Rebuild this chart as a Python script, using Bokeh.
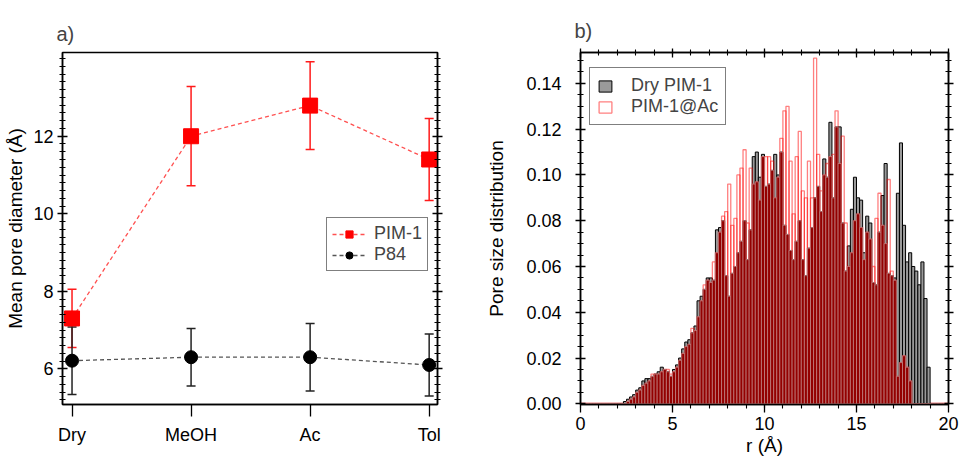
import numpy as np
from bokeh.plotting import figure
from bokeh.models import (Range1d, LinearAxis, FixedTicker, Whisker, TeeHead,
                          ColumnDataSource, PrintfTickFormatter, Span)
from bokeh.layouts import row
from bokeh.embed import file_html
from bokeh.resources import INLINE

# ---------------- data: panel a) ----------------
categories = ["Dry", "MeOH", "Ac", "Tol"]
pim1_mean = [7.30, 12.00, 12.79, 11.40]
pim1_err = [0.75, 1.28, 1.13, 1.06]
p84_mean = [6.21, 6.30, 6.30, 6.10]
p84_err = [0.87, 0.74, 0.87, 0.80]

# ---------------- data: panel b) ----------------
bin_width = 1.0 / 6.0   # Angstrom, bins from r = 0 to 20
dry_pim1 = [
    0.0, 0.0, 0.0, 0.0, 0.0, 0.0, 0.0, 0.0, 0.0, 0.0, 0.0, 0.0, 0.0, 0.0,
    0.001, 0.002, 0.003, 0.004, 0.006, 0.007, 0.010, 0.011, 0.011, 0.012,
    0.013, 0.014, 0.016, 0.015, 0.014, 0.012, 0.015, 0.017, 0.020, 0.024,
    0.027, 0.028, 0.031, 0.034, 0.045, 0.047, 0.050, 0.055, 0.055, 0.054,
    0.076, 0.077, 0.080, 0.056, 0.047, 0.057, 0.060, 0.066, 0.071, 0.080,
    0.063, 0.076, 0.108, 0.110, 0.099, 0.109, 0.095, 0.096, 0.102, 0.109,
    0.100, 0.110, 0.078, 0.074, 0.067, 0.063, 0.071, 0.080, 0.063, 0.056,
    0.068, 0.077, 0.090, 0.095, 0.084, 0.107, 0.099, 0.123, 0.090, 0.121,
    0.121, 0.079, 0.058, 0.069, 0.085, 0.099, 0.090, 0.089, 0.066, 0.082,
    0.079, 0.053, 0.052, 0.075, 0.091, 0.105, 0.057, 0.056, 0.055, 0.092,
    0.114, 0.078, 0.062, 0.066, 0.060, 0.058, 0.052, 0.062, 0.046, 0.016,
    0.0, 0.0, 0.0, 0.0, 0.0, 0.0,
]
pim1_ac = [
    0.0, 0.0, 0.0, 0.0, 0.0, 0.0, 0.0, 0.0, 0.0, 0.0, 0.0, 0.0, 0.0, 0.0, 0.0,
    0.001, 0.002, 0.003, 0.005, 0.006, 0.008, 0.009, 0.010, 0.013, 0.013,
    0.013, 0.014, 0.015, 0.015, 0.013, 0.014, 0.016, 0.019, 0.022, 0.025,
    0.026, 0.033, 0.032, 0.038, 0.045, 0.052, 0.054, 0.053, 0.062, 0.066,
    0.075, 0.082, 0.084, 0.096, 0.078, 0.081, 0.100, 0.103, 0.111, 0.079,
    0.103, 0.096, 0.097, 0.089, 0.108, 0.108, 0.108, 0.106, 0.090, 0.099,
    0.116, 0.128, 0.130, 0.106, 0.083, 0.108, 0.119, 0.093, 0.090, 0.106,
    0.090, 0.151, 0.109, 0.093, 0.100, 0.105, 0.108, 0.109, 0.128, 0.105,
    0.117, 0.079, 0.060, 0.066, 0.080, 0.083, 0.077, 0.063, 0.075, 0.072,
    0.060, 0.081, 0.092, 0.078, 0.070, 0.098, 0.058, 0.054, 0.012, 0.018,
    0.021, 0.016, 0.010,
    0.0, 0.0, 0.0, 0.0, 0.0, 0.0, 0.0, 0.0, 0.0, 0.0, 0.0, 0.0,
]

FONT = "Liberation Sans"
TICK_FS = "18px"
LABEL_FS = "19px"


def style_axis(ax, label_fs=TICK_FS):
    ax.axis_line_width = 1.5
    ax.major_tick_line_width = 1.3
    ax.minor_tick_line_width = 1.1
    ax.major_label_text_font = FONT
    ax.major_label_text_font_size = label_fs
    ax.major_label_text_color = "black"
    ax.axis_label_text_font = FONT
    ax.axis_label_text_font_size = LABEL_FS
    ax.axis_label_text_font_style = "normal"
    ax.axis_label_text_color = "black"


def mirror_axis(ticker, tick_in, tick_out, minor_in, minor_out):
    ax = LinearAxis(ticker=ticker)
    style_axis(ax, label_fs="1px")
    ax.major_label_text_color = None
    ax.major_label_standoff = 0
    ax.major_tick_in = tick_in
    ax.major_tick_out = tick_out
    ax.minor_tick_in = minor_in
    ax.minor_tick_out = minor_out
    return ax


# ================= panel a) =================
xpos = list(range(len(categories)))
p1 = figure(width=478, height=463, output_backend="svg", toolbar_location=None,
            x_range=Range1d(-0.08, 3.07), y_range=Range1d(5.08, 14.16),
            min_border_left=62, min_border_right=41, min_border_top=50,
            min_border_bottom=55, title="a)")
p1.title.text_font = FONT
p1.title.text_font_size = "20px"
p1.title.text_font_style = "normal"
p1.title.offset = -6
p1.title.standoff = 16
p1.grid.visible = False
p1.outline_line_color = "black"
p1.outline_line_width = 1.5

src_pim = ColumnDataSource(dict(
    x=xpos, y=pim1_mean,
    upper=[m + e for m, e in zip(pim1_mean, pim1_err)],
    lower=[m - e for m, e in zip(pim1_mean, pim1_err)]))
src_p84 = ColumnDataSource(dict(
    x=xpos, y=p84_mean,
    upper=[m + e for m, e in zip(p84_mean, p84_err)],
    lower=[m - e for m, e in zip(p84_mean, p84_err)]))

for src, col in ((src_pim, "#ff1a1a"), (src_p84, "#222222")):
    w = Whisker(base="x", upper="upper", lower="lower", source=src,
                line_color=col, line_width=1.5,
                upper_head=TeeHead(size=9, line_color=col, line_width=1.5),
                lower_head=TeeHead(size=9, line_color=col, line_width=1.5))
    p1.add_layout(w)

p1.line("x", "y", source=src_pim, line_color="#ff5050", line_dash="4 3",
        line_width=1.3, legend_label="PIM-1")
p1.scatter("x", "y", source=src_pim, marker="square", size=15,
           fill_color="#ff0000", line_color="#ff0000", legend_label="PIM-1")
p1.line("x", "y", source=src_p84, line_color="#555555", line_dash="4 3",
        line_width=1.3, legend_label="P84")
p1.scatter("x", "y", source=src_p84, marker="circle", size=13,
           fill_color="black", line_color="black", legend_label="P84")

xa = p1.xaxis[0]
style_axis(xa)
xa.ticker = FixedTicker(ticks=xpos)
xa.major_label_overrides = {i: c for i, c in enumerate(categories)}
xa.major_tick_in = 0
xa.major_tick_out = 12
xa.minor_tick_in = 0
xa.minor_tick_out = 0
xa.major_label_standoff = 8

ya_ticker = FixedTicker(ticks=[6, 8, 10, 12],
                        minor_ticks=[round(v, 1) for v in np.arange(5.2, 14.05, 0.2)])
ya = p1.yaxis[0]
style_axis(ya)
ya.ticker = ya_ticker
ya.axis_label = "Mean pore diameter (Å)"
ya.major_tick_in = 5
ya.major_tick_out = 5
ya.minor_tick_in = 3
ya.minor_tick_out = 3
ya.major_label_standoff = 4
ya.axis_label_standoff = 4
p1.add_layout(mirror_axis(ya_ticker, 5, 5, 3, 3), "right")

lg1 = p1.legend[0]
lg1.location = (264, 133)
lg1.label_text_font = FONT
lg1.label_text_font_size = "18px"
lg1.border_line_color = "black"
lg1.border_line_width = 1.5
lg1.padding = 5
lg1.spacing = 0
lg1.glyph_width = 34
lg1.glyph_height = 18
lg1.label_height = 18
lg1.label_standoff = 8
lg1.margin = 0

# ================= panel b) =================
centers = [(k + 0.5) * bin_width for k in range(len(dry_pim1))]
both = np.minimum(np.array(dry_pim1), np.array(pim1_ac)).tolist()
src_h = ColumnDataSource(dict(r=centers, dry=dry_pim1, ac=pim1_ac, both=both))

p2 = figure(width=482, height=463, output_backend="svg", toolbar_location=None,
            x_range=Range1d(0, 20), y_range=Range1d(-0.0003, 0.1535),
            min_border_left=102, min_border_right=12, min_border_top=52,
            min_border_bottom=59, title="b)")
p2.title.text_font = FONT
p2.title.text_font_size = "20px"
p2.title.text_font_style = "normal"
p2.title.offset = -6
p2.title.standoff = 14
p2.grid.visible = False
p2.outline_line_color = "black"
p2.outline_line_width = 1.5

p2.add_layout(Span(location=0, dimension="width", line_color="#d40000",
                   line_width=2, level="underlay"))
p2.vbar(x="r", top="dry", bottom=0, width=bin_width, source=src_h,
        fill_color="#9a9a9a", line_color="black", line_width=1.0,
        legend_label="Dry PIM-1")
p2.vbar(x="r", top="ac", bottom=0, width=bin_width, source=src_h,
        fill_color=None, line_color="#ff0000", line_alpha=0.5, line_width=1.3,
        legend_label="PIM-1@Ac")
p2.vbar(x="r", top="both", bottom=0, width=bin_width, source=src_h,
        fill_color="#930000", line_color="#c49090", line_width=0.7)

xt2 = FixedTicker(ticks=[0, 5, 10, 15, 20], minor_ticks=list(range(0, 21)))
xb = p2.xaxis[0]
style_axis(xb)
xb.ticker = xt2
xb.axis_label = "r (Å)"
xb.major_tick_in = 0
xb.major_tick_out = 8
xb.minor_tick_in = 0
xb.minor_tick_out = 4
xb.major_label_standoff = 4
xb.axis_label_standoff = 2
p2.add_layout(mirror_axis(xt2, 5, 4, 3, 3), "above")

yt2 = FixedTicker(ticks=[round(v, 2) for v in np.arange(0, 0.141, 0.02)],
                  minor_ticks=[round(v, 3) for v in np.arange(0, 0.1501, 0.005)])
yb = p2.yaxis[0]
style_axis(yb)
yb.ticker = yt2
yb.formatter = PrintfTickFormatter(format="%.2f")
yb.axis_label = "Pore size distribution"
yb.major_tick_in = 5
yb.major_tick_out = 5
yb.minor_tick_in = 3
yb.minor_tick_out = 3
yb.major_label_standoff = 14
yb.axis_label_standoff = 16
p2.add_layout(mirror_axis(yt2, 4, 5, 3, 3), "right")

lg2 = p2.legend[0]
lg2.location = (9, 279)
lg2.label_text_font = FONT
lg2.label_text_font_size = "18px"
lg2.border_line_color = "black"
lg2.border_line_width = 1.5
lg2.padding = 7
lg2.spacing = 0
lg2.glyph_width = 16
lg2.glyph_height = 14
lg2.label_height = 18
lg2.label_standoff = 18
lg2.margin = 0

layout = row(p1, p2)
open("out.html", "w").write(file_html(layout, INLINE))
